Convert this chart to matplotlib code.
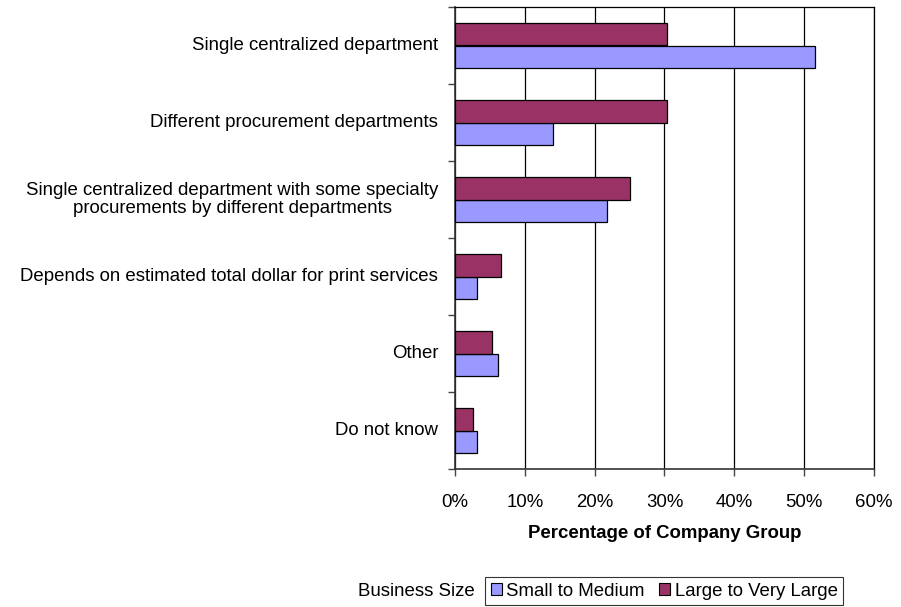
import matplotlib
matplotlib.use("Agg")
import matplotlib.pyplot as plt
import numpy as np
from matplotlib.patches import Patch

plt.rcParams['font.family'] = ['Liberation Sans', 'DejaVu Sans']

categories = [
    "Single centralized department",
    "Different procurement departments",
    "Single centralized department with some specialty\nprocurements by different departments",
    "Depends on estimated total dollar for print services",
    "Other",
    "Do not know",
]
small_medium = [51.5, 14.1, 21.8, 3.1, 6.2, 3.1]
large_very_large = [30.3, 30.3, 25.0, 6.6, 5.3, 2.6]
series_names = ["Small to Medium", "Large to Very Large"]
x_ticks = [0, 10, 20, 30, 40, 50, 60]

blue = "#9999FF"
maroon = "#993366"
FS = 13.4

fig = plt.figure(figsize=(9.01, 6.07), dpi=100)
ax = fig.add_axes([455 / 901, 1 - 469 / 607, 419 / 901, 462 / 607])

n = len(categories)
y = np.arange(n)
h = 0.286
ax.barh(y + h / 2, small_medium, height=h, color=blue, edgecolor="black", linewidth=0.9, zorder=3)
ax.barh(y - h / 2, large_very_large, height=h, color=maroon, edgecolor="black", linewidth=0.9, zorder=3)

ax.set_xlim(0, 60)
ax.set_ylim(n - 0.5, -0.5)
ax.set_xticks(x_ticks)
ax.set_xticklabels([f"{t}%" for t in x_ticks], fontsize=FS)
ax.xaxis.grid(True, color="black", linewidth=0.9, zorder=0)

# category labels centered on each group, ticks at group boundaries
ax.set_yticks(np.arange(-0.5, n, 1.0))
ax.set_yticklabels([])
ax.tick_params(axis="y", direction="out", length=5, width=1, color="#444444")
ax.tick_params(axis="x", direction="out", length=5, width=1, color="#444444", pad=13)
for i, lab in enumerate(categories):
    ax.text(-2.4, i, lab, ha="right", va="center", fontsize=FS,
            multialignment="center", linespacing=1.05)

for s in ["left", "bottom"]:
    ax.spines[s].set_linewidth(1.2)
    ax.spines[s].set_color("#333333")
for s in ["top", "right"]:
    ax.spines[s].set_linewidth(0.9)
    ax.spines[s].set_color("black")

ax.set_xlabel("Percentage of Company Group", fontsize=FS, fontweight="bold", labelpad=10)

# legend
handles = [Patch(facecolor=blue, edgecolor="black", linewidth=0.8),
           Patch(facecolor=maroon, edgecolor="black", linewidth=0.8)]
leg = fig.legend(handles, series_names, loc="center left", bbox_to_anchor=(485 / 901, 1 - 591 / 607),
                 ncol=2, frameon=True, fancybox=False, fontsize=FS, handlelength=0.6,
                 handleheight=0.6, handletextpad=0.25, columnspacing=0.75, borderpad=0.3,
                 borderaxespad=0)
leg.get_frame().set_edgecolor("black")
leg.get_frame().set_linewidth(0.8)
fig.text(475 / 901, 1 - 591 / 607, "Business Size", ha="right", va="center", fontsize=FS)

fig.savefig("out.png", dpi=100)
